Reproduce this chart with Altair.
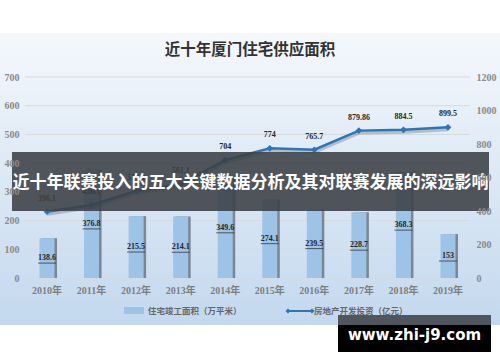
import altair as alt
import pandas as pd

# ---------------- data ----------------
years = ["2010年", "2011年", "2012年", "2013年", "2014年",
         "2015年", "2016年", "2017年", "2018年", "2019年"]
area = [138.6, 376.8, 215.5, 214.1, 349.6, 274.1, 239.5, 228.7, 368.3, 153]
area_labels = ["138.6", "376.8", "215.5", "214.1", "349.6",
               "274.1", "239.5", "228.7", "368.3", "153"]
invest = [396.1, 436.1, 519.2, 561.1, 704, 774, 765.7, 879.86, 884.5, 899.5]
invest_labels = ["396.1", "436.1", "519.2", "561.1", "704",
                 "774", "765.7", "879.86", "884.5", "899.5"]
left_ticks = [0, 100, 200, 300, 400, 500, 600, 700]
right_ticks = [0, 200, 400, 600, 800, 1000, 1200]

title_text = "近十年厦门住宅供应面积"
banner_text = "近十年联赛投入的五大关键数据分析及其对联赛发展的深远影响"
legend_bar = "住宅竣工面积（万平米）"
legend_line = "房地产开发投资（亿元）"
watermark = "www.zhi-j9.com"

df = pd.DataFrame({
    "year": years,
    "area": area,
    "half": [a / 2 for a in area],
    "alab": area_labels,
    "invest": invest,
    "ilab": invest_labels,
})
grid_df = pd.DataFrame({"g": left_ticks})
one = pd.DataFrame({"k": [0]})

W, H = 445, 201
SERIF = "Liberation Serif, DejaVu Serif, Noto Sans CJK SC"
CJK = "Noto Sans CJK SC"

xscale = alt.Scale(domain=years, paddingInner=0.66, paddingOuter=0.324)
xaxis = alt.Axis(title=None, labelFont=SERIF, labelFontSize=10,
                 labelFontWeight="bold", labelColor="#7f7f7f",
                 labelPadding=7, domain=False, ticks=False, labelAngle=0,
                 zindex=1, orient="bottom")
xenc = alt.X("year:N", sort=years, scale=xscale, axis=xaxis)

ysc_l = alt.Scale(domain=[0, 700], nice=False, zero=True)
ysc_r = alt.Scale(domain=[0, 1200], nice=False, zero=True)

# ---------------- background ----------------
bg = alt.Chart(one).mark_rect(
    fill=alt.Gradient(
        gradient="linear", x1=0, x2=0, y1=0, y2=1,
        stops=[alt.GradientStop(color="#f4f8fc", offset=0),
               alt.GradientStop(color="#dce8f5", offset=0.5),
               alt.GradientStop(color="#c3d8ee", offset=1)],
    )
).encode(x=alt.value(-25), x2=alt.value(475), y=alt.value(-44), y2=alt.value(248))

# ---------------- bars (left axis) ----------------
grid = alt.Chart(grid_df).mark_rule(color="#d9d9d9", strokeWidth=1).encode(
    y=alt.Y("g:Q", scale=ysc_l,
            axis=alt.Axis(orient="left", title=None, values=left_ticks,
                          grid=False, domain=False, ticks=False,
                          labelPadding=6, labelFont=SERIF, labelFontSize=10,
                          labelFontWeight="bold", labelColor="#8a8a8a",
                          zindex=1)),
    x=alt.value(0), x2=alt.value(W),
)

bar_shadow = alt.Chart(df).mark_bar(size=15, xOffset=2.5, color="#56616e",
                                    opacity=0.7).encode(
    x=xenc, y=alt.Y("area:Q", scale=ysc_l, axis=None))
bars = alt.Chart(df).mark_bar(size=15, color="#9dc3e6").encode(
    x=xenc, y=alt.Y("area:Q", scale=ysc_l, axis=None))
bar_text = alt.Chart(df).mark_text(font=SERIF, fontSize=8, fontWeight="bold",
                                   color="#262626").encode(
    x=xenc, y=alt.Y("half:Q", scale=ysc_l, axis=None), text="alab:N")
bar_ul = alt.Chart(df).mark_tick(orient="horizontal", size=18, thickness=1,
                                 color="#262626", yOffset=5).encode(
    x=xenc, y=alt.Y("half:Q", scale=ysc_l, axis=None))

# ---------------- line (right axis) ----------------
line_shadow = alt.Chart(df).mark_line(color="#1d3550", opacity=0.25,
                                      strokeWidth=4, yOffset=2).encode(
    x=xenc, y=alt.Y("invest:Q", scale=ysc_r,
                    axis=alt.Axis(orient="right", title=None, values=right_ticks,
                                  format="d",
                                  grid=False, domain=False, ticks=False,
                                  labelPadding=6, labelFont=SERIF,
                                  labelFontSize=10, labelFontWeight="bold",
                                  labelColor="#8a8a8a", zindex=1)))
line = alt.Chart(df).mark_line(color="#2e75b6", strokeWidth=2.5).encode(
    x=xenc, y=alt.Y("invest:Q", scale=ysc_r, axis=None))
pts = alt.Chart(df).mark_point(shape="diamond", filled=True, size=45,
                               color="#2e75b6", opacity=1).encode(
    x=xenc, y=alt.Y("invest:Q", scale=ysc_r, axis=None))
line_text = alt.Chart(df).mark_text(font=SERIF, fontSize=8, fontWeight="bold",
                                    color="#262626", dy=-13).encode(
    x=xenc, y=alt.Y("invest:Q", scale=ysc_r, axis=None), text="ilab:N")

# ---------------- legend ----------------
leg_swatch = alt.Chart(one).mark_rect(color="#9dc3e6").encode(
    x=alt.value(99), x2=alt.value(119), y=alt.value(230), y2=alt.value(237))
leg_t1 = alt.Chart(one).mark_text(text=legend_bar, font=CJK, fontSize=8.5,
                                  fontWeight="bold", color="#666666",
                                  align="left", baseline="middle").encode(
    x=alt.value(123), y=alt.value(234))
leg_line = alt.Chart(one).mark_rule(color="#2e75b6", strokeWidth=2).encode(
    x=alt.value(263), x2=alt.value(287), y=alt.value(234))
leg_p1 = alt.Chart(one).mark_point(shape="diamond", filled=True, size=25,
                                   color="#2e75b6", opacity=1).encode(
    x=alt.value(263), y=alt.value(234))
leg_p2 = alt.Chart(one).mark_point(shape="diamond", filled=True, size=25,
                                   color="#2e75b6", opacity=1).encode(
    x=alt.value(287), y=alt.value(234))
leg_t2 = alt.Chart(one).mark_text(text=legend_line, font=CJK, fontSize=8.5,
                                  fontWeight="bold", color="#666666",
                                  align="left", baseline="middle").encode(
    x=alt.value(289), y=alt.value(234))

# ---------------- title ----------------
title = alt.Chart(one).mark_text(text=title_text, font=CJK, fontSize=15.5,
                                 fontWeight="bold", color="#333333",
                                 align="center", baseline="middle").encode(
    x=alt.value(225), y=alt.value(-27))

# ---------------- banner overlay ----------------
banner = alt.Chart(one).mark_rect(color="#3b4046", opacity=0.88).encode(
    x=alt.value(-13), x2=alt.value(464), y=alt.value(75), y2=alt.value(134))
banner_t = alt.Chart(one).mark_text(text=banner_text, font=CJK, fontSize=17,
                                    fontWeight="bold", color="#ffffff",
                                    align="center", baseline="middle").encode(
    x=alt.value(225.5), y=alt.value(106))

# ---------------- watermark ----------------
wm_gray = alt.Chart(one).mark_rect(color="#50565d").encode(
    x=alt.value(313), x2=alt.value(466), y=alt.value(238), y2=alt.value(248))
wm_black = alt.Chart(one).mark_rect(color="#000000").encode(
    x=alt.value(313), x2=alt.value(466), y=alt.value(248), y2=alt.value(275))
wm_t = alt.Chart(one).mark_text(text=watermark, font="DejaVu Sans", fontSize=15,
                                fontWeight="bold", color="#ffffff",
                                align="center", baseline="middle").encode(
    x=alt.value(389.5), y=alt.value(258))

chart = alt.layer(
    bg, grid, bar_shadow, bars, bar_text, bar_ul,
    line_shadow, line, pts, line_text,
    leg_swatch, leg_t1, leg_line, leg_p1, leg_p2, leg_t2,
    title, banner, banner_t, wm_gray, wm_black, wm_t,
).resolve_scale(y="independent").properties(
    width=W, height=H,
    autosize=alt.AutoSizeParams(type="none"),
    padding={"left": 25, "top": 77, "right": 30, "bottom": 84},
    background="#ffffff",
).configure_view(stroke=None, clip=False)

chart.save("out.html", embed_options={"renderer": "svg", "actions": False})
